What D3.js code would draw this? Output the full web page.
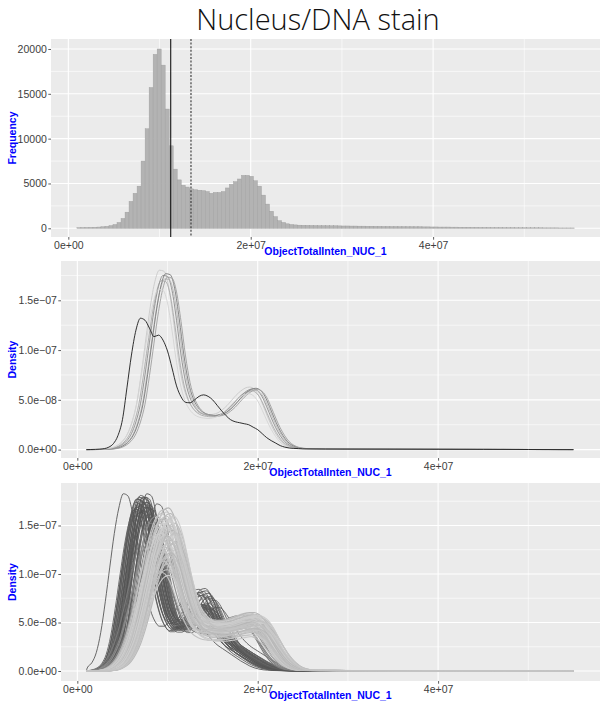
<!DOCTYPE html>
<html><head><meta charset="utf-8">
<script src="https://cdn.jsdelivr.net/npm/d3@7"></script>
<style>body{margin:0;background:#fff}</style></head>
<body>
<svg id="c" width="601" height="704"></svg>
<script>
// ---------------- DATA ----------------
const chartTitle = "Nucleus/DNA stain";
const xTitle = "ObjectTotalInten_NUC_1";
// histogram (top)
const histStart = 0.94e6;
const histBinWidth = 0.44e6;
const histCounts = [
  80, 90, 100, 110, 120, 140, 170, 220, 300, 420,
  650, 1100, 1800, 3000, 3900, 4700, 7500, 11100, 15700, 19400,
  20000, 18200, 13300, 9200, 6600, 5400, 4800, 4600, 4400, 4300,
  4250, 4200, 4100, 3900, 4000, 4000, 4100, 4500, 4900, 5200,
  5500, 5900, 5900, 5800, 5300, 4700, 3700, 2700, 1900, 1300,
  850, 650, 500, 420, 380, 350, 340, 330, 320, 310,
  300, 300, 290, 280, 280, 270, 260, 260, 250, 250,
  240, 240, 230, 230, 220, 220, 210, 210, 200, 200,
  190, 190, 180, 180, 170, 170, 160, 160, 150, 150,
  140, 140, 140, 130, 130, 120, 120, 120, 110, 110,
  100, 100, 100, 90, 90, 90, 80, 80, 80, 70,
  70, 70, 60, 60, 60, 60, 50, 50, 50, 50,
  40, 40, 40, 40
];
const refLineSolid = 1.123e7;
const refLineDotted = 1.345e7;

// density grid (x in units of 1e7), densities in units of 1e-7
const gridX = [0.10,0.15,0.20,0.25,0.30,0.35,0.40,0.45,0.50,0.55,0.60,0.65,0.70,0.75,0.80,0.85,0.90,0.95,1.00,1.05,1.10,1.15,1.20,1.25,1.30,1.35,1.40,1.45,1.50,1.55,1.60,1.65,1.70,1.75,1.80,1.85,1.90,1.95,2.00,2.05,2.10,2.15,2.20,2.25,2.30,2.35,2.40,2.45,2.50,2.75,3.00,3.50,4.00,4.50,5.00,5.50];

// middle panel
const blackDensity = [0,0.001,0.002,0.004,0.010,0.025,0.060,0.140,0.300,0.620,0.950,1.200,1.320,1.300,1.220,1.135,1.150,1.100,0.990,0.820,0.640,0.530,0.475,0.470,0.500,0.535,0.550,0.535,0.500,0.445,0.390,0.340,0.300,0.280,0.270,0.260,0.250,0.225,0.200,0.160,0.120,0.090,0.065,0.040,0.025,0.016,0.012,0.010,0.008,0.006,0.005,0.004,0.003,0.002,0.001,0];
const greyDensity = [0,0,0.001,0.002,0.003,0.006,0.012,0.025,0.050,0.090,0.160,0.280,0.460,0.750,1.080,1.400,1.640,1.750,1.740,1.600,1.300,0.950,0.680,0.520,0.430,0.380,0.355,0.345,0.340,0.345,0.360,0.390,0.430,0.480,0.530,0.570,0.600,0.610,0.590,0.530,0.430,0.320,0.220,0.140,0.080,0.045,0.025,0.015,0.010,0.007,0.006,0.004,0.003,0.002,0.001,0];
const midShifts = [-0.04, -0.02, 0.00, 0.02, 0.03, 0.05, -0.05];
const midScales = [1.03, 0.97, 1.00, 0.98, 1.01, 0.99, 0.92];
const midShades = ["#c8c8c8", "#aaaaaa", "#8c8c8c", "#b5b5b5", "#7a7a7a", "#9e9e9e", "#d4d4d4"];

// bottom panel templates
const darkA = [0,0.001,0.003,0.010,0.030,0.080,0.180,0.380,0.680,1.020,1.350,1.600,1.740,1.720,1.560,1.300,1.020,0.780,0.600,0.490,0.440,0.440,0.480,0.550,0.620,0.660,0.660,0.620,0.550,0.470,0.400,0.340,0.290,0.250,0.220,0.190,0.160,0.130,0.100,0.075,0.050,0.032,0.020,0.012,0.008,0.005,0.004,0.003,0.003,0.002,0.002,0.002,0.001,0.001,0.001,0];
const darkB = [0,0.001,0.003,0.008,0.025,0.070,0.160,0.340,0.620,0.960,1.290,1.550,1.700,1.700,1.560,1.330,1.060,0.820,0.640,0.540,0.500,0.510,0.560,0.650,0.740,0.800,0.810,0.760,0.660,0.540,0.430,0.340,0.270,0.220,0.180,0.150,0.120,0.090,0.065,0.045,0.030,0.020,0.012,0.008,0.005,0.004,0.003,0.003,0.002,0.002,0.002,0.001,0.001,0.001,0.001,0];
const lightA = [0,0,0.001,0.002,0.005,0.012,0.030,0.060,0.110,0.190,0.300,0.450,0.630,0.830,1.030,1.210,1.350,1.430,1.450,1.400,1.270,1.080,0.880,0.720,0.600,0.530,0.490,0.465,0.455,0.450,0.450,0.455,0.465,0.480,0.495,0.510,0.520,0.520,0.505,0.470,0.410,0.330,0.250,0.175,0.115,0.070,0.040,0.022,0.013,0.006,0.005,0.004,0.003,0.002,0.001,0];
// [template, shift (1e7), scale, shade]
const bottomCurves = [
  [0,-0.19,1.05,"#4f4f4f"],[0,-0.08,0.95,"#555555"],[0,-0.06,1.00,"#5a5a5a"],[0,-0.05,0.97,"#505050"],
  [0,-0.04,1.02,"#5e5e5e"],[0,-0.03,0.99,"#555555"],[0,-0.02,1.03,"#4d4d4d"],[0,-0.02,0.96,"#606060"],
  [0,-0.01,1.01,"#585858"],[0,0.00,1.04,"#525252"],[0,0.00,0.98,"#5c5c5c"],[0,0.01,1.00,"#4f4f4f"],
  [0,0.02,1.03,"#5a5a5a"],[0,0.02,0.95,"#636363"],[0,0.03,0.99,"#555555"],[0,0.04,1.02,"#5e5e5e"],
  [0,0.05,0.97,"#525252"],[0,0.06,1.00,"#5a5a5a"],[0,0.07,1.05,"#4d4d4d"],[0,0.08,0.93,"#666666"],
  [0,0.10,0.96,"#5c5c5c"],[0,0.12,0.90,"#666666"],[0,0.18,0.99,"#555555"],
  [0,-0.07,0.92,"#5a5a5a"],[0,0.01,0.91,"#606060"],[0,0.05,1.03,"#555555"],[0,0.09,0.98,"#5e5e5e"],
  [1,-0.07,0.98,"#555555"],[1,-0.04,1.00,"#5a5a5a"],[1,-0.02,0.96,"#505050"],[1,0.00,1.01,"#5e5e5e"],
  [1,0.01,0.97,"#555555"],[1,0.03,1.02,"#595959"],[1,0.04,0.94,"#616161"],[1,0.06,0.99,"#555555"],
  [1,0.08,0.95,"#5e5e5e"],[1,0.10,0.92,"#666666"],[1,0.13,0.90,"#5a5a5a"],
  [1,-0.05,1.04,"#5c5c5c"],[1,0.02,1.05,"#505050"],[1,0.07,0.93,"#5a5a5a"],
  [2,-0.18,1.05,"#7a7a7a"],[2,-0.15,0.95,"#858585"],[2,-0.12,1.10,"#8c8c8c"],[2,-0.10,0.90,"#909090"],
  [2,-0.08,1.00,"#999999"],[2,-0.12,0.85,"#808080"],
  [2,-0.08,1.05,"#b3b3b3"],[2,-0.07,0.95,"#bdbdbd"],[2,-0.06,1.12,"#c4c4c4"],[2,-0.05,0.85,"#bababa"],
  [2,-0.05,1.00,"#c8c8c8"],[2,-0.04,1.08,"#b5b5b5"],[2,-0.04,0.78,"#cccccc"],[2,-0.03,0.92,"#c0c0c0"],
  [2,-0.03,1.15,"#bfbfbf"],[2,-0.02,1.02,"#c9c9c9"],[2,-0.02,0.88,"#b8b8b8"],[2,-0.01,0.97,"#d0d0d0"],
  [2,-0.01,1.10,"#c2c2c2"],[2,0.00,0.72,"#c6c6c6"],[2,0.00,1.04,"#bcbcbc"],[2,0.00,0.90,"#cdcdcd"],
  [2,0.01,1.16,"#b6b6b6"],[2,0.01,0.95,"#c3c3c3"],[2,0.02,1.06,"#cbcbcb"],[2,0.02,0.82,"#bfbfbf"],
  [2,0.03,0.99,"#c7c7c7"],[2,0.03,1.12,"#b9b9b9"],[2,0.04,0.88,"#cfcfcf"],[2,0.04,1.03,"#c1c1c1"],
  [2,0.05,0.93,"#bababa"],[2,0.05,1.09,"#c9c9c9"],[2,0.06,0.80,"#c4c4c4"],[2,0.06,1.00,"#b4b4b4"],
  [2,0.07,0.96,"#cccccc"],[2,0.08,1.05,"#bebebe"],[2,0.08,0.86,"#c6c6c6"],[2,0.10,0.92,"#b8b8b8"],
  [2,-0.06,0.70,"#c0c0c0"],[2,0.02,0.68,"#cacaca"],
  [2,-0.07,0.87,"#c5c5c5"],[2,-0.06,0.98,"#cbcbcb"],[2,-0.04,0.93,"#bcbcbc"],[2,-0.03,1.05,"#d0d0d0"],
  [2,-0.02,0.80,"#c1c1c1"],[2,-0.01,1.13,"#c8c8c8"],[2,0.00,0.96,"#b7b7b7"],[2,0.01,1.08,"#cccccc"],
  [2,0.01,0.76,"#bdbdbd"],[2,0.02,0.94,"#c4c4c4"],[2,0.03,1.07,"#cecece"],[2,0.04,0.84,"#b9b9b9"],
  [2,0.05,1.01,"#c6c6c6"],[2,0.06,0.90,"#c0c0c0"],[2,0.07,1.10,"#cacaca"],[2,0.09,0.98,"#c2c2c2"]
];

// ticks
const xTickValues = [0, 2e7, 4e7];
const xTickLabels = ["0e+00", "2e+07", "4e+07"];
const xMinorValues = [1e7, 3e7, 5e7];
const histYTicks = [0, 5000, 10000, 15000, 20000];
const histYLabels = ["0", "5000", "10000", "15000", "20000"];
const histYMinor = [2500, 7500, 12500, 17500];
const densYTicks = [0, 0.5, 1.0, 1.5];
const densYLabels = ["0.0e+00", "5.0e\u221208", "1.0e\u221207", "1.5e\u221207"];
const densYMinor = [0.25, 0.75, 1.25, 1.75];

// ---------------- DRAW ----------------
const svg = d3.select("#c");
const FONT = "'Liberation Sans', Arial, Helvetica, sans-serif";

svg.append("text").attr("x", 318).attr("y", 30).attr("text-anchor", "middle")
  .style("font-family", "'Open Sans', 'Noto Sans', sans-serif").style("font-weight", 300)
  .style("font-size", "29px").attr("fill", "#111").text(chartTitle);

function panel(cfg) {
  const x = d3.scaleLinear().domain(cfg.xDomain).range([cfg.left, cfg.right]);
  const y = d3.scaleLinear().domain(cfg.yDomain).range([cfg.bottom, cfg.top]);
  const g = svg.append("g");
  g.append("rect").attr("x", cfg.left).attr("y", cfg.top)
    .attr("width", cfg.right - cfg.left).attr("height", cfg.bottom - cfg.top).attr("fill", "#ebebeb");
  g.selectAll(null).data(cfg.yMinor).enter().append("line")
    .attr("x1", cfg.left).attr("x2", cfg.right).attr("y1", d => y(d)).attr("y2", d => y(d))
    .attr("stroke", "#fff").attr("stroke-width", 0.6);
  g.selectAll(null).data(xMinorValues).enter().append("line")
    .attr("y1", cfg.top).attr("y2", cfg.bottom).attr("x1", d => x(d)).attr("x2", d => x(d))
    .attr("stroke", "#fff").attr("stroke-width", 0.6);
  g.selectAll(null).data(cfg.yTicks).enter().append("line")
    .attr("x1", cfg.left).attr("x2", cfg.right).attr("y1", d => y(d)).attr("y2", d => y(d))
    .attr("stroke", "#fff").attr("stroke-width", 1.1);
  g.selectAll(null).data(xTickValues).enter().append("line")
    .attr("y1", cfg.top).attr("y2", cfg.bottom).attr("x1", d => x(d)).attr("x2", d => x(d))
    .attr("stroke", "#fff").attr("stroke-width", 1.1);

  const clipId = "clip" + cfg.id;
  svg.append("clipPath").attr("id", clipId).append("rect")
    .attr("x", cfg.left).attr("y", cfg.top).attr("width", cfg.right - cfg.left).attr("height", cfg.bottom - cfg.top);
  const content = svg.append("g").attr("clip-path", `url(#${clipId})`);

  const ax = svg.append("g").attr("transform", `translate(0,${cfg.bottom})`)
    .call(d3.axisBottom(x).tickValues(xTickValues).tickFormat((d, i) => xTickLabels[i]).tickSize(2.7).tickPadding(1.5));
  const ay = svg.append("g").attr("transform", `translate(${cfg.left},0)`)
    .call(d3.axisLeft(y).tickValues(cfg.yTicks).tickFormat((d, i) => cfg.yLabels[i]).tickSize(2.7).tickPadding(1.5));
  [ax, ay].forEach(a => {
    a.select(".domain").remove();
    a.selectAll(".tick line").attr("stroke", "#333").attr("stroke-width", 0.8);
    a.selectAll(".tick text").attr("fill", "#3d3d3d").style("font-family", FONT).style("font-size", "10.5px");
  });
  svg.append("text").attr("x", (cfg.left + cfg.right) / 2).attr("y", cfg.bottom + 18)
    .attr("text-anchor", "middle").attr("fill", "#0000ff").style("font-family", FONT)
    .style("font-weight", "bold").style("font-size", "10.5px").text(xTitle);
  svg.append("text").attr("transform", `translate(15.5,${(cfg.top + cfg.bottom) / 2}) rotate(-90)`)
    .attr("text-anchor", "middle").attr("fill", "#0000ff").style("font-family", FONT)
    .style("font-weight", "bold").style("font-size", "10.5px").text(cfg.yTitle);
  return { x, y, content };
}

// ---- top: histogram
const p1 = panel({ id: 1, left: 51, right: 600, top: 39, bottom: 237,
  xDomain: [-0.19e7, 5.83e7], yDomain: [-970, 21115],
  yTicks: histYTicks, yLabels: histYLabels, yMinor: histYMinor, yTitle: "Frequency" });
p1.content.selectAll("rect.bar").data(histCounts).enter().append("rect")
  .attr("class", "bar")
  .attr("x", (d, i) => p1.x(histStart + i * histBinWidth))
  .attr("width", (d, i) => p1.x(histStart + (i + 1) * histBinWidth) - p1.x(histStart + i * histBinWidth))
  .attr("y", d => p1.y(d)).attr("height", d => p1.y(0) - p1.y(d))
  .attr("fill", "#b3b3b3").attr("stroke", "#9c9c9c").attr("stroke-width", 0.4);
p1.content.append("line").attr("x1", p1.x(refLineSolid)).attr("x2", p1.x(refLineSolid))
  .attr("y1", 39).attr("y2", 237).attr("stroke", "#000").attr("stroke-width", 1);
p1.content.append("line").attr("x1", p1.x(refLineDotted)).attr("x2", p1.x(refLineDotted))
  .attr("y1", 39).attr("y2", 237).attr("stroke", "#333").attr("stroke-width", 1.1).attr("stroke-dasharray", "2,1.6");

function curvePoints(tpl, dx, sy) {
  const lo = gridX[0], hi = gridX[gridX.length - 1];
  const pts = [];
  tpl.forEach((v, i) => {
    const gx = gridX[i] + dx;
    if (gx > lo && gx < hi) pts.push([gx * 1e7, v * sy]);
  });
  pts.unshift([lo * 1e7, 0]);
  pts.push([hi * 1e7, 0]);
  return pts;
}

// ---- middle
const p2 = panel({ id: 2, left: 61, right: 600, top: 261, bottom: 458,
  xDomain: [-0.181e7, 5.795e7], yDomain: [-0.0844, 1.895],
  yTicks: densYTicks, yLabels: densYLabels, yMinor: densYMinor, yTitle: "Density" });
const line2 = d3.line().x(d => p2.x(d[0])).y(d => p2.y(d[1])).curve(d3.curveMonotoneX);
midShifts.forEach((dx, i) => {
  p2.content.append("path").attr("d", line2(curvePoints(greyDensity, dx, midScales[i])))
    .attr("fill", "none").attr("stroke", midShades[i]).attr("stroke-width", 0.9);
});
p2.content.append("path").attr("d", line2(curvePoints(blackDensity, 0, 1)))
  .attr("fill", "none").attr("stroke", "#1a1a1a").attr("stroke-width", 0.9);

// ---- bottom
const p3 = panel({ id: 3, left: 61, right: 600, top: 483, bottom: 681,
  xDomain: [-0.181e7, 5.795e7], yDomain: [-0.103, 1.938],
  yTicks: densYTicks, yLabels: densYLabels, yMinor: densYMinor, yTitle: "Density" });
const line3 = d3.line().x(d => p3.x(d[0])).y(d => p3.y(d[1])).curve(d3.curveMonotoneX);
const templates = [darkA, darkB, lightA];
bottomCurves.forEach(c => {
  p3.content.append("path").attr("d", line3(curvePoints(templates[c[0]], c[1], c[2])))
    .attr("fill", "none").attr("stroke", c[3]).attr("stroke-width", c[0] === 2 ? 1.1 : 0.85);
});
</script>
</body></html>
